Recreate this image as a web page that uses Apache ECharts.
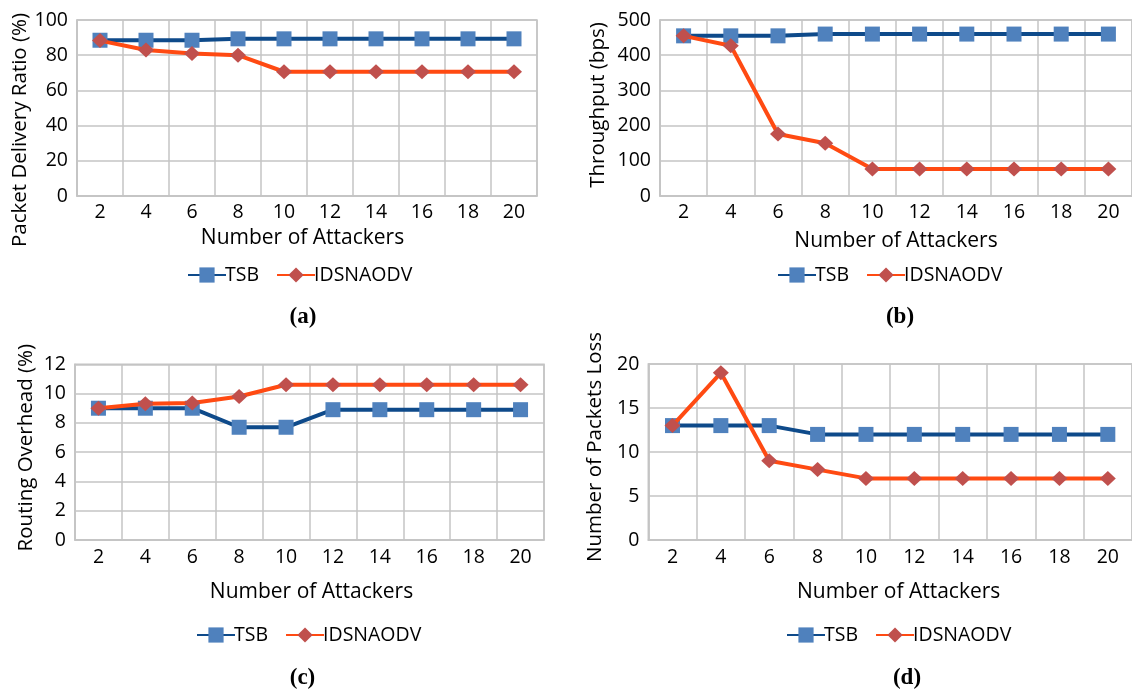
<!DOCTYPE html>
<html>
<head>
<meta charset="utf-8">
<script src="https://cdn.jsdelivr.net/npm/echarts@6/dist/echarts.min.js"></script>
<style>
html,body{margin:0;padding:0;background:#fff;}
#c{width:1132px;height:693px;}
</style>
</head>
<body>
<div id="c"></div>
<script>
// ---- data ----
const categories = ['2','4','6','8','10','12','14','16','18','20'];
const seriesNames = ['TSB','IDSNAODV'];
const pdrTSB = [88.5,88.5,88.5,89.3,89.3,89.3,89.3,89.3,89.3,89.3];
const pdrIDS = [88.3,83.0,81.0,80.0,70.6,70.6,70.6,70.6,70.6,70.6];
const thrTSB = [455,455,455,460,460,460,460,460,460,460];
const thrIDS = [455,427,176,150,77,77,77,77,77,77];
const roTSB = [9.0,9.0,9.0,7.7,7.7,8.9,8.9,8.9,8.9,8.9];
const roIDS = [9.0,9.3,9.35,9.8,10.6,10.6,10.6,10.6,10.6,10.6];
const plTSB = [13,13,13,12,12,12,12,12,12,12];
const plIDS = [13,19,9,8,7,7,7,7,7,7];
const yMax = [100,500,12,20];
const yStep = [20,100,2,5];
const yNames = ['Packet Delivery Ratio (%)','Throughput (bps)','Routing Overhead (%)','Number of Packets Loss'];
const xName = 'Number of Attackers';
const panelLabels = ['(a)','(b)','(c)','(d)'];

// ---- layout ----
const FONT = 'Open Sans';
const grids = [
  {left:77, top:20, width:460, height:176},
  {left:660, top:20, width:475, height:176},
  {left:75, top:364.3, width:469, height:175.7},
  {left:648.3, top:364, width:487, height:176}
];
const xNameGap = [32,35,42,42];
const xNamePad = [[0,9,0,0],[0,0,0,0],[0,0,0,4],[0,0,0,17]];
const yNameGap = [46,51,38,42.5];
const yNamePad = [[0,44,0,0],[0,0,0,6],[0,0,0,9],[0,0,0,10]];
const xLabelMargin = [6,6,7,7];
const legendPos = [{left:182, top:260},{left:772, top:260},{left:191, top:620},{left:781, top:620}];
const labelPos = [[303,317],[900,317],[302.5,678],[907,678]];

const TSB_LINE = '#0E4A8A', TSB_MARK = '#4F81BD';
const IDS_LINE = '#FF4A12', IDS_MARK = '#C0504D';
const GRIDC = '#C4C4C4';

const dataSets = [[pdrTSB,pdrIDS],[thrTSB,thrIDS],[roTSB,roIDS],[plTSB,plIDS]];

const option = {
  animation:false,
  backgroundColor:'#fff',
  textStyle:{fontFamily:FONT},
  grid: grids.map(g => Object.assign({show:true, borderColor:GRIDC, borderWidth:1.5, backgroundColor:'transparent'}, g)),
  xAxis: grids.map((g,i) => ({
    type:'category', gridIndex:i, data:categories, boundaryGap:true,
    name:xName, nameLocation:'middle', nameGap:xNameGap[i],
    nameTextStyle:{fontFamily:FONT, fontSize:21, color:'#000', padding:xNamePad[i]},
    axisLine:{show:true, lineStyle:{color:GRIDC, width:1.5}},
    axisTick:{show:false},
    axisLabel:{fontFamily:FONT, fontSize:19.5, color:'#000', margin:xLabelMargin[i], interval:0},
    splitLine:{show:true, interval:0, lineStyle:{color:GRIDC, width:1.5}}
  })),
  yAxis: grids.map((g,i) => ({
    type:'value', gridIndex:i, min:0, max:yMax[i], interval:yStep[i],
    name:yNames[i], nameLocation:'middle', nameGap:yNameGap[i], nameRotate:90,
    nameTextStyle:{fontFamily:FONT, fontSize:20.5, color:'#000', padding:yNamePad[i]},
    axisLine:{show:true, lineStyle:{color:GRIDC, width:1.5}},
    axisTick:{show:false},
    axisLabel:{fontFamily:FONT, fontSize:19.5, color:'#000', margin:9},
    splitLine:{show:true, lineStyle:{color:GRIDC, width:1.5}}
  })),
  legend: legendPos.map(p => ({
    left:p.left, top:p.top, orient:'horizontal',
    data:seriesNames, itemWidth:38, itemHeight:19, itemGap:17,
    textStyle:{fontFamily:FONT, fontSize:19.5, color:'#000', padding:[0,0,0,-6]},
    selectedMode:false
  })),
  series: [],
  graphic: panelLabels.map((t,i) => ({
    type:'text', x:labelPos[i][0], y:labelPos[i][1],
    style:{text:t, font:'bold 23px "Liberation Serif", "Times New Roman", serif', fill:'#000', align:'center', verticalAlign:'middle'}
  }))
};

dataSets.forEach((pair,i) => {
  option.series.push({
    name:seriesNames[0], type:'line', xAxisIndex:i, yAxisIndex:i, data:pair[0],
    symbol:'rect', symbolSize:15, lineStyle:{color:TSB_LINE, width:4},
    itemStyle:{color:TSB_MARK}, z:2
  });
  option.series.push({
    name:seriesNames[1], type:'line', xAxisIndex:i, yAxisIndex:i, data:pair[1],
    symbol:'diamond', symbolSize:[16,15], lineStyle:{color:IDS_LINE, width:4},
    itemStyle:{color:IDS_MARK}, z:3
  });
});

const chart = echarts.init(document.getElementById('c'), null, {renderer:'canvas'});
chart.setOption(option);
</script>
</body>
</html>
